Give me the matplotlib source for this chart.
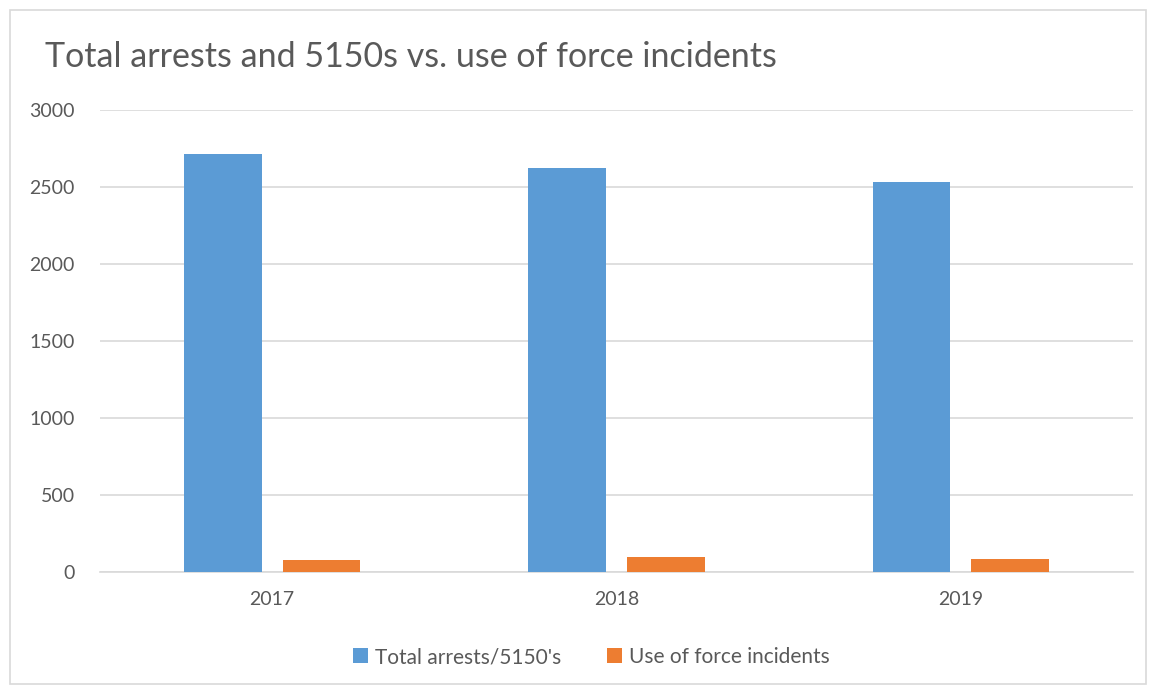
import matplotlib
matplotlib.use("Agg")
import matplotlib.pyplot as plt
from matplotlib.patches import Rectangle
import numpy as np

years = ["2017", "2018", "2019"]
arrests = [2713, 2624, 2534]
force = [78, 99, 84]
series_names = ["Total arrests/5150's", "Use of force incidents"]

plt.rcParams['font.family'] = ['Lato', 'DejaVu Sans']
W, H = 1149, 685
fig = plt.figure(figsize=(W / 100, H / 100), dpi=100)
ax = fig.add_axes([100 / W, 1 - 572 / H, (1133 - 100) / W, (572 - 110) / H])

x = np.arange(len(years))
bw = 0.226
off = 0.1435
ax.bar(x - off, arrests, bw, color="#5B9BD5", label=series_names[0], zorder=3)
ax.bar(x + off, force, bw, color="#ED7D31", label=series_names[1], zorder=3)

ax.set_xlim(-0.5, 2.5)
ax.set_ylim(0, 3000)
ax.set_yticks(range(0, 3001, 500))
ax.set_xticks(x)
ax.set_xticklabels(years)
ax.grid(axis="y", color="#D9D9D9", linewidth=1.2, zorder=0)
for s in ["top", "right", "left"]:
    ax.spines[s].set_visible(False)
ax.spines["bottom"].set_color("#D9D9D9")
ax.spines["bottom"].set_linewidth(1.2)
ax.tick_params(length=0, labelsize=14, colors="#595959")
ax.tick_params(axis="x", pad=14)
ax.tick_params(axis="y", pad=18)

fig.text(45 / W, 1 - 57 / H, "Total arrests and 5150s vs. use of force incidents",
         fontsize=24.5, color="#595959", va="center", ha="left")

leg = fig.legend(loc="center", bbox_to_anchor=(591 / W, 1 - 657 / H), ncol=2,
                 frameon=False, fontsize=15, handlelength=0.75, handleheight=0.75,
                 handletextpad=0.3, columnspacing=2.2)
for t in leg.get_texts():
    t.set_color("#595959")

fig.patches.append(Rectangle((10 / W, 1 / H), 1136 / W, 674 / H, transform=fig.transFigure,
                             fill=False, edgecolor="#D9D9D9", linewidth=1.2))

fig.savefig("out.png", dpi=100)
